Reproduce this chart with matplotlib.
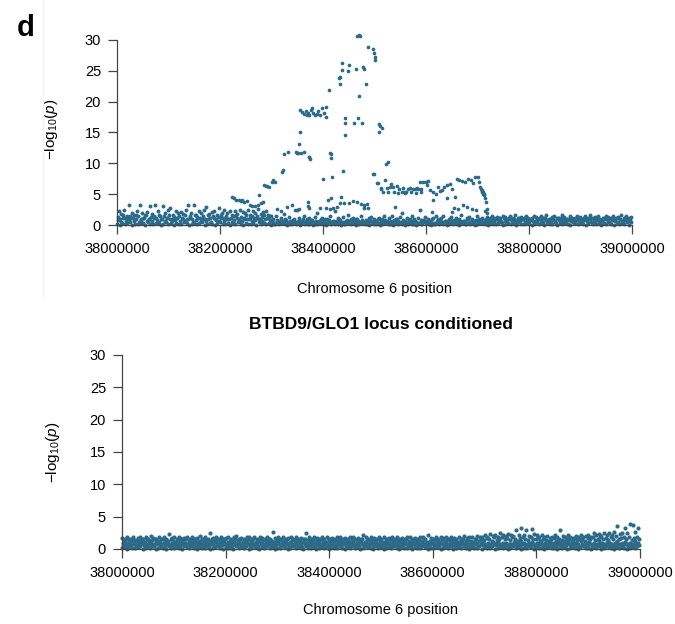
import numpy as np
import matplotlib.pyplot as plt
from matplotlib.lines import Line2D

plt.rcParams['font.family'] = ['Liberation Sans', 'DejaVu Sans']
plt.rcParams['mathtext.fontset'] = 'custom'
plt.rcParams['mathtext.rm'] = 'Liberation Sans'
plt.rcParams['mathtext.it'] = 'Liberation Sans:italic'

DOT = '#2c6a8a'
START = 38000000
BIN = 5000

xticks = [38000000, 38200000, 38400000, 38600000, 38800000, 39000000]
yticks = [0, 5, 10, 15, 20, 25, 30]

# background SNPs, -log10(p) in tenths, one value per 5 kb bin (38.000-38.995 Mb)
top_bg_1 = """
2 0 4 1 3 5 0 2 1 4 3 0 5 2 1 3 4 0 2 5 1 3 0 4 2
1 5 3 0 2 4 1 3 5 0 2 4 1 0 3 5 2 1 4 0 3 2 5 1 0
4 2 1 3 0 5 2 4 1 3 0 2 5 1 4 3 0 2 1 5 4 0 3 2 1
5 0 2 4 3 1 0 5 2 3 4 1 0 2 5 3 1 4 0 2 3 5 1 0 4
2 3 0 1 5 4 2 0 3 1 4 5 0 2 3 1 0 4 2 5 3 1 0 2 4
1 3 5 0 2 4 3 1 0 5 2 3 1 4 0 2 5 3 1 0 4 2 1 3 5
0 2 4 1 3 0 5 2 1 4 3 0 2 5 1 4 0 3 2 1 5 0 4 2 3
1 0 5 3 2 4 1 0 3 5 2 1 4 0 3 2 5 1 0 4 2 3 1 5 0
"""
top_bg_2 = """
8 5 11 7 9 12 6 10 5 8 11 7 9 6 12 8 5 10 7 11 9 6 8 12 7
10 6 9 12 5 8 11 7 10 6 9 5 12 8 7 11 6 10 9 5 8 12 7 6 10
9 11 6 8 12 10 7 9 11 8 4 2 5 3 6 2 4 5 3 2 6 4 3 5 2
3 5 2 6 4 2 3 5 4 2 6 3 5 2 4 3 6 2 5 4 3 2 5 6 3
2 4 6 3 5 2 4 3 6 5 2 3 4 6 2 5 3 4 2 6 3 5 4 2 3
5 2 4 6 3 2 5 4 3 6 2 4 5 3 2 6 4 3 5 6 8 5 9 7 4
7 5 9 6 8 4 7 9 5 6 8 7 4 9 6 5 8 7 6 9 4 8 5 7 6
8 6 4 9 7 5 8 6 9 4 7 8 5 6 9 7 4 8 6 5 9 7 8 6 5
"""
top_bg_3 = """
13 10 16 12 9 15 11 17 14 10 12 16 9 13 15 11 17 10 14 12 16 9 13 11 15
12 17 10 14 9 16 13 11 15 10 17 12 14 9 13 16 11 15 10 12 14 17 9 13 11
16 10 14 12 15 9 13 17 11 14 6 4 8 5 7 9 4 6 8 5 7 4 9 6 5
8 4 7 5 9 6 4 8 5 7 6 9 4 5 8 7 4 6 9 5 8 4 7 6 5
7 9 4 6 8 5 7 4 9 6 5 8 4 7 6 9 5 4 8 6 7 5 9 4 6
8 5 7 4 9 6 5 8 7 4 6 9 5 7 8 4 6 5 9 10 8 12 9 11 7
11 9 12 8 10 7 12 9 11 10 8 12 7 10 9 11 12 8 10 9 7 11 12 8 10
9 12 10 8 11 7 12 10 9 11 8 12 10 7 11 9 12 8 10 11 9 7 12 10 8
"""
top_bg_4 = """
22 18 24 15 33 20 17 23 32 19 16 21 30 18 33 22 15 31 20 24 28 17 23 19 21
18 24 33 20 32 16 22 19 25 29 18 21 23 17 27 20 24 19 22 16 23 18 25 21 19
24 17 22 20 26 18 21 23 16 15 9 14 7 11 18 8 13 6 10 25 12 7 15 9 11
8 13 20 6 12 10 9 14 7 22 11 8 13 6 16 10 12 9 7 14 28 8 11 13 10
7 12 9 15 6 11 14 8 10 13 19 7 12 9 14 6 11 24 8 13 10 7 12 15 9
11 14 6 10 13 8 12 9 16 7 11 13 10 6 14 9 12 8 13 12 14 10 13 11 15
13 10 14 12 16 11 13 9 14 12 10 15 13 11 14 12 17 10 13 14 11 12 16 13 10
14 12 11 15 13 10 14 12 16 11 13 14 10 12 15 13 11 14 12 13 16 11 14 12 13
"""

# associated SNPs in the BTBD9/GLO1 region (top panel)
sig_pos = [38466000, 38469000, 38472000, 38487000, 38498000, 38499500, 38500500, 38501500,
           38437500, 38450000, 38436000, 38449000, 38465000, 38477000, 38479500,
           38433000, 38431000, 38434000, 38484000, 38411700, 38469300,
           38356000, 38360000, 38364000, 38367000, 38369000, 38371000, 38373000, 38376000,
           38378000, 38381000, 38384000, 38388000, 38391000, 38394000, 38397500, 38401000,
           38406000, 38405000,
           38442000, 38443500, 38461000, 38468500, 38476000,
           38508500, 38510500, 38515000, 38509000, 38442500, 38355000, 38353000,
           38324000, 38332000, 38347500, 38350000, 38352000, 38357000, 38363000, 38372000,
           38373500, 38374500, 38413500, 38416500, 38415000,
           38521500, 38526500, 38319800, 38321700, 38439500, 38497000, 38499500,
           38301500, 38303500, 38306800, 38286000, 38289000, 38292000, 38296000,
           38399500, 38417000, 38276000,
           38224000, 38227000, 38231000, 38236000, 38240000, 38243000, 38247000, 38252000,
           38258000, 38262000, 38268000, 38274000, 38280000, 38283000,
           38434500, 38370000, 38371500, 38372500, 38433000, 38441000, 38450500, 38458000,
           38466500, 38474000, 38485000, 38395000, 38405500, 38413000, 38420000, 38426500,
           38352500, 38330000, 38340000, 38345000, 38310000, 38318000, 38480500, 38488000,
           38410000, 38416000, 38540000, 38612000, 38650000, 38655000, 38663000, 38672000,
           38680000, 38690000, 38698000, 38718000, 38715500, 38717500,
           38504300, 38506000, 38512000, 38512600, 38517000, 38520000,
           38530100, 38535300, 38543100, 38548200, 38552800, 38557300, 38561200, 38565700,
           38574200, 38578600, 38585100, 38589700, 38594800, 38600000, 38602500, 38607800,
           38613000, 38614200, 38619400, 38630500, 38635000, 38640200, 38646600, 38649900,
           38656300, 38538000, 38545000, 38560000, 38570000, 38580000, 38590000, 38555000,
           38568000, 38583000, 38524000, 38527000, 38532000, 38588000, 38604000, 38624000,
           38627000, 38641000,
           38659600, 38664700, 38669900, 38675700, 38682100, 38686800, 38690700, 38695100,
           38700400, 38703500, 38704900, 38706800, 38708000, 38709200, 38710300, 38711300,
           38708800, 38710000, 38711800, 38713200, 38715100, 38716500]
sig_val = [30.7, 30.8, 30.7, 28.9, 28.6, 27.9, 27.2, 26.7,
           26.3, 26.0, 25.1, 25.0, 25.3, 25.6, 25.2,
           24.0, 23.8, 22.9, 22.9, 21.8, 20.9,
           18.6, 18.3, 18.0, 18.4, 17.8, 18.2, 17.9, 18.6,
           18.9, 18.1, 17.8, 18.0, 18.5, 17.8, 18.9, 18.2,
           19.1, 17.5,
           17.3, 16.6, 16.5, 17.3, 16.5,
           16.4, 16.0, 15.8, 15.0, 14.6, 15.0, 13.2,
           11.5, 11.9, 11.8, 11.6, 11.6, 11.6, 11.8, 11.1,
           11.0, 10.7, 11.6, 11.5, 10.9,
           9.9, 10.2, 8.6, 8.9, 8.8, 8.3, 8.2,
           7.0, 7.3, 7.0, 6.5, 6.4, 6.3, 6.2,
           7.5, 7.8, 4.9,
           4.6, 4.3, 4.0, 4.1, 3.9, 4.0, 3.8, 3.9,
           3.3, 3.1, 3.0, 3.3, 3.6, 3.8,
           4.5, 3.8, 3.0, 2.7, 3.6, 3.6, 3.6, 3.9,
           3.7, 3.4, 3.4, 2.7, 2.7, 2.6, 2.8, 2.9,
           2.6, 2.9, 3.2, 2.4, 2.6, 2.3, 3.2, 2.8,
           4.1, 4.3, 2.9, 2.1, 2.1, 2.8, 2.6, 3.2,
           2.9, 2.6, 2.5, 2.6, 2.2, 2.0,
           6.8, 6.8, 6.0, 5.8, 5.4, 7.3,
           6.2, 6.1, 6.3, 5.9, 5.4, 5.3, 5.4, 5.8,
           5.8, 5.8, 5.8, 5.8, 6.9, 7.0, 6.5, 5.7,
           5.4, 4.1, 5.0, 5.6, 6.2, 6.5, 6.6, 5.9,
           4.6, 5.3, 5.2, 5.2, 5.3, 5.2, 5.3, 6.0,
           6.0, 6.0, 6.0, 5.4, 6.6, 7.0, 7.2, 6.2,
           5.5, 4.4,
           7.4, 7.3, 7.2, 7.0, 7.4, 7.3, 6.8, 7.7,
           7.8, 7.0, 6.2, 5.9, 5.6, 5.4, 5.2, 5.0,
           5.5, 5.3, 5.1, 4.9, 4.3, 3.8]

# after conditioning (bottom panel)
bot_bg_1 = """
1 3 0 4 2 1 3 4 0 2 3 1 4 0 2 3 1 0 4 2 1 3 2 0 4
3 1 4 2 0 3 1 2 4 0 1 3 4 2 0 3 1 2 0 4 1 3 2 4 0
2 4 1 0 3 2 4 1 3 0 2 1 4 3 0 2 4 1 3 2 0 4 1 2 3
0 2 3 1 4 0 3 2 1 4 2 0 3 1 4 2 3 0 1 4 3 2 0 4 1
4 0 2 3 1 4 2 0 3 1 2 4 0 3 2 1 4 3 0 2 1 3 4 0 2
3 1 4 0 2 3 1 4 2 0 3 2 1 4 0 3 1 2 4 0 2 4 1 3 0
1 4 2 3 0 1 2 4 3 0 4 1 2 0 3 4 2 1 0 3 2 4 0 1 3
2 0 3 4 1 2 0 3 1 4 0 2 4 3 1 0 3 2 4 1 0 2 3 1 4
"""
bot_bg_2 = """
5 7 3 6 8 4 5 7 6 3 8 5 4 7 6 3 5 8 4 6 7 3 5 8 6
4 6 8 3 5 7 4 6 3 8 5 7 4 6 8 3 5 4 7 6 8 3 5 7 4
7 3 5 8 6 4 7 5 3 6 8 4 5 7 3 6 4 8 5 3 7 6 4 8 5
6 8 4 3 7 5 6 3 8 4 7 5 3 6 8 4 5 7 3 6 4 8 5 7 3
3 5 7 6 4 8 3 5 6 7 4 3 8 5 6 4 7 3 5 8 6 4 3 7 5
8 4 6 5 3 7 8 4 6 3 5 7 4 8 6 3 5 4 7 6 8 3 5 6 4
4 7 5 3 8 6 4 5 7 3 6 8 4 5 3 7 6 4 8 5 3 6 7 4 8
6 3 8 4 5 7 3 6 4 8 5 3 7 6 4 5 8 3 6 7 4 5 3 8 6
"""
bot_bg_3 = """
9 11 7 10 12 8 9 11 10 7 12 9 8 11 10 7 9 12 8 10 11 7 9 12 10
8 10 12 7 9 11 8 10 7 12 9 11 8 10 12 7 9 8 11 10 12 7 9 11 8
11 7 9 12 10 8 11 9 7 10 12 8 9 11 7 10 8 12 9 7 11 10 8 12 9
10 12 8 7 11 9 10 7 12 8 11 9 7 10 12 8 9 11 7 10 8 12 9 11 7
7 9 11 10 8 12 7 9 10 11 8 7 12 9 10 8 11 7 9 12 10 8 7 11 9
12 8 10 9 7 11 12 8 10 7 9 11 8 12 10 7 9 8 11 10 12 7 9 10 8
8 11 9 7 12 10 8 9 11 7 10 12 8 9 7 11 10 8 12 9 7 10 11 8 12
10 7 12 8 9 11 7 10 8 12 9 7 11 10 8 9 12 7 10 11 8 9 7 12 10
"""
bot_bg_4 = """
13 15 11 16 12 14 13 16 11 15 12 14 16 13 11 15 14 12 16 13 11 14 15 12 16
12 14 16 11 13 15 12 14 11 16 13 15 12 14 16 11 13 12 15 14 16 11 13 15 12
15 11 13 16 14 12 15 13 11 14 16 12 13 15 11 14 12 16 13 11 15 14 12 16 13
14 16 12 11 15 13 14 11 16 12 15 13 11 14 16 12 13 15 11 14 12 16 13 15 11
11 13 15 14 12 16 11 13 14 15 12 11 16 13 14 12 15 11 13 16 14 12 11 15 13
16 12 14 13 11 15 16 12 14 13 11 15 12 16 14 17 15 13 18 14 16 19 15 17 14
18 16 13 17 19 15 14 18 16 15 17 13 16 14 12 15 17 13 16 14 12 15 16 13 17
14 16 15 12 17 15 18 14 16 19 15 17 14 18 16 20 15 17 19 16 18 14 17 19 16
"""
bot_bg_5 = """
17 15 19 16 18 14 17 19 15 18 16 20 17 15 19 16 18 15 23 17 19 16 18 15 17
19 16 18 15 17 20 16 18 15 25 17 19 16 18 15 17 19 16 18 20 15 17 16 19 18
16 18 15 19 17 16 18 15 26 17 19 16 18 15 17 19 16 18 15 17 16 24 19 15 18
17 15 19 16 18 15 17 16 19 18 15 17 16 18 19 15 17 16 22 18 15 19 17 16 18
16 18 15 17 19 16 18 15 17 16 19 18 15 17 16 18 19 15 22 17 16 18 15 19 17
18 16 19 17 15 18 16 20 17 19 18 16 20 18 19 21 19 23 20 22 19 24 21 20 23
22 20 30 21 33 22 29 20 31 23 21 19 21 18 20 17 19 22 18 29 20 18 21 19 17
20 18 21 19 20 22 19 24 21 23 20 25 22 24 21 26 35 23 25 32 24 39 37 27 33
"""

top_layers = [top_bg_1, top_bg_2, top_bg_3, top_bg_4]
bot_layers = [bot_bg_1, bot_bg_2, bot_bg_3, bot_bg_4, bot_bg_5]
layer_shift = [0, 2500, 1250, 3750, 625]


def layer_points(layers):
    xs, ys = [], []
    for k, s in enumerate(layers):
        v = np.array(s.split(), dtype=float) / 10.0
        xs.append(START + layer_shift[k] + BIN * np.arange(len(v)))
        ys.append(v)
    return np.concatenate(xs), np.concatenate(ys)


def style(ax):
    ax.set_xlim(38000000, 39000000)
    ax.set_ylim(0, 31)
    ax.spines['top'].set_visible(False)
    ax.spines['right'].set_visible(False)
    for s in ['left', 'bottom']:
        ax.spines[s].set_color('#444444')
        ax.spines[s].set_linewidth(0.9)
    ax.spines['left'].set_bounds(0, 30)
    ax.spines['bottom'].set_bounds(38000000, 39000000)
    ax.set_xticks(xticks)
    ax.set_xticklabels([str(t) for t in xticks])
    ax.set_yticks(yticks)
    ax.tick_params(length=6.5, width=0.9, color='#444444', labelsize=10.5)
    ax.tick_params(axis='y', pad=5)
    ax.tick_params(axis='x', pad=6)
    ax.set_ylabel(r'$-\mathrm{log}_{10}(\mathit{p})$', fontsize=11)
    ax.set_xlabel('Chromosome 6 position', fontsize=10.5)


fig = plt.figure(figsize=(6.75, 6.24), dpi=100)

ax1 = fig.add_axes([0.1733, 0.6394, 0.7630, 0.3066])
bx, by = layer_points(top_layers)
ax1.scatter(bx, by, s=8, color=DOT, linewidths=0, clip_on=False, zorder=2)
ax1.scatter(sig_pos, sig_val, s=7, color=DOT, linewidths=0, clip_on=False, zorder=2)
style(ax1)
ax1.yaxis.set_label_coords(-0.11, 0.5)
ax1.xaxis.set_label_coords(0.5, -0.30)

ax2 = fig.add_axes([0.1807, 0.1202, 0.7674, 0.3214])
cx, cy = layer_points(bot_layers)
ax2.scatter(cx, cy, s=9, color=DOT, linewidths=0, clip_on=False, zorder=2)
style(ax2)
ax2.yaxis.set_label_coords(-0.116, 0.48)
ax2.xaxis.set_label_coords(0.5, -0.27)
ax2.set_title('BTBD9/GLO1 locus conditioned', fontsize=12.5, fontweight='bold', pad=14)

fig.text(0.025, 0.978, 'd', fontsize=21, fontweight='bold', va='top', ha='left')
fig.add_artist(Line2D([0.064, 0.064], [1.0, 0.524], transform=fig.transFigure,
                      color='#f2f2f2', linewidth=1))

fig.savefig('out.png', dpi=100)
